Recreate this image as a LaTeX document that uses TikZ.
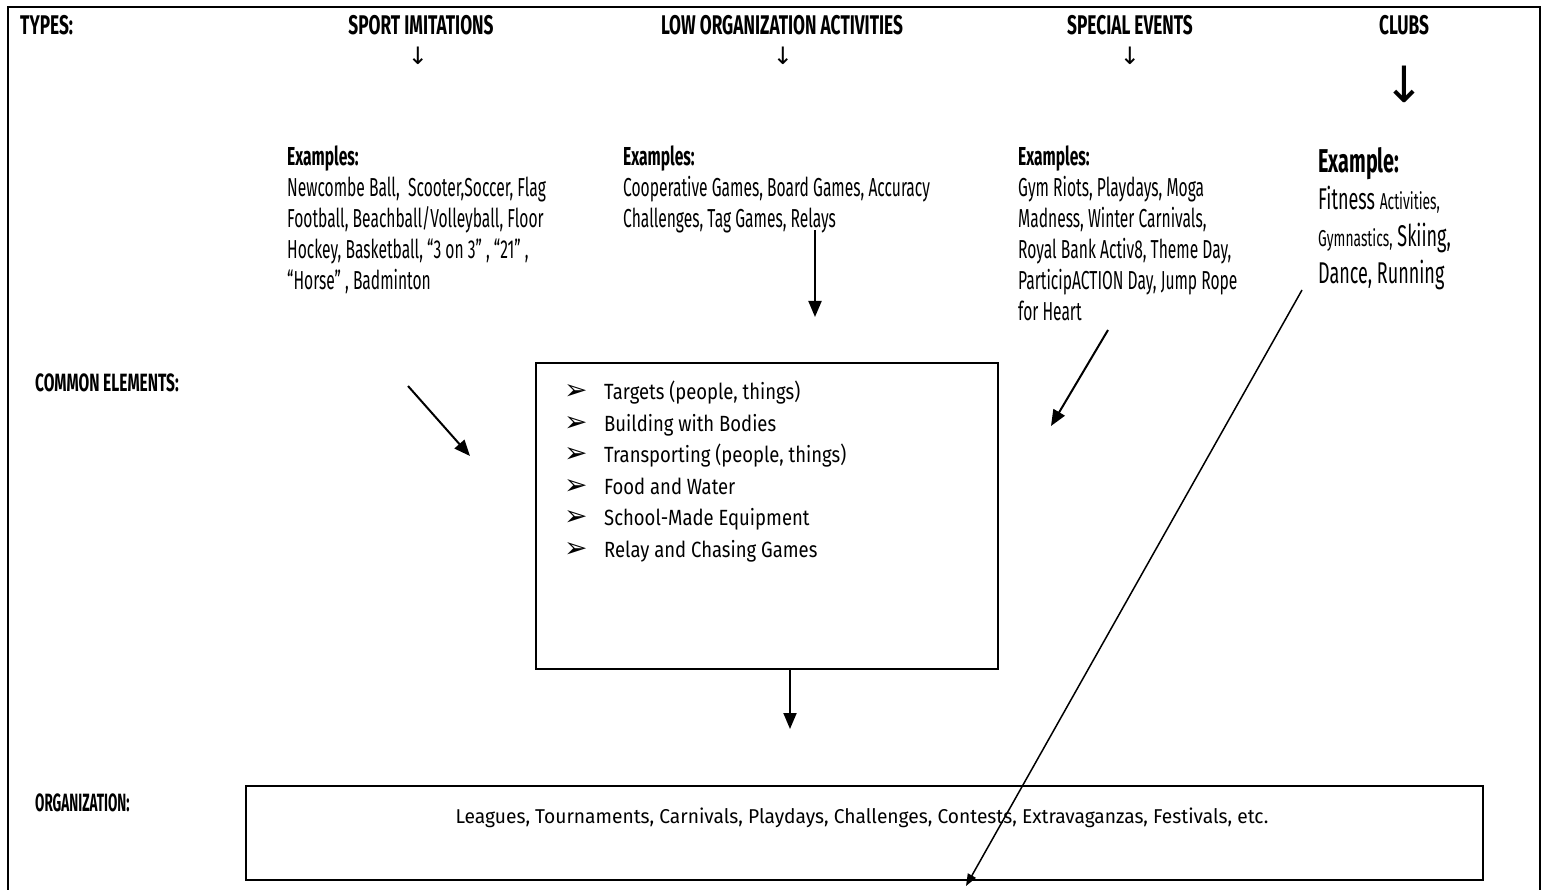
\documentclass[tikz,border=0pt]{standalone}
\usepackage{fontspec}
\setmainfont{Fira Sans}
\newfontfamily\headfont{Fira Sans}[FakeStretch=0.64]
\newfontfamily\sidefont{Fira Sans}[FakeStretch=0.62]
\newfontfamily\orgsidefont{Fira Sans}[FakeStretch=0.54]
\newfontfamily\exfont{Fira Sans}[FakeStretch=0.6]
\newfontfamily\listfont{Fira Sans}[FakeStretch=0.84]
\newfontfamily\orgfont{Fira Sans}[FakeStretch=0.96]
\newfontfamily\symfont{DejaVu Sans}
\usetikzlibrary{arrows.meta, calc}
\newcommand{\elembullet}{\makebox[40pt][l]{\symfont\fontsize{28}{28}\selectfont ➢}}
\tikzset{
    my-head/.style={
        inner sep=0, font=\headfont\bfseries\fontsize{27}{30}\selectfont
    },
    my-side/.style={
        inner sep=0, anchor=west, font=\sidefont\bfseries\fontsize{25}{30}\selectfont
    },
    my-down/.style={
        inner sep=0, font=\symfont\fontsize{24}{24}\selectfont
    },
    my-examples/.style={
        inner sep=0, anchor=north west, align=left,
        font=\exfont\fontsize{26}{31}\selectfont
    },
    my-box/.style={
        draw, line width=1.5pt, inner sep=0
    },
    my-arrow/.style={
        line width=2pt, -{Triangle[length=16pt, width=13pt]}
    },
}

\begin{document}
\begin{tikzpicture}[x=1pt, y=-1pt]

        \useasboundingbox (0,0) rectangle (1546,890);

        % FRAME
        \draw[line width=2.5pt] (8,900) -- (8,7) -- (1540,7) -- (1540,900);

        % TYPES
        \node[my-head, anchor=west] (TYPES)   at (20,25)   {TYPES:};
        \node[my-head]              (SPORT)   at (421,25)  {SPORT IMITATIONS};
        \node[my-head]              (LOW)     at (782,25)  {LOW ORGANIZATION ACTIVITIES};
        \node[my-head]              (SPECIAL) at (1130,25) {SPECIAL EVENTS};
        \node[my-head]              (CLUBS)   at (1404,25) {CLUBS};

        % DOWN SIGNS UNDER THE TYPES
        \node[my-down] (SPORTDOWN)   at (418,56)  {↓};
        \node[my-down] (LOWDOWN)     at (783,56)  {↓};
        \node[my-down] (SPECIALDOWN) at (1130,56) {↓};
        \node[my-down, font=\symfont\fontsize{50}{50}\selectfont]
                       (CLUBSDOWN)   at (1404,84) {↓};

        % EXAMPLES
        \node[my-examples] (EXSPORT) at (287,146) {%
            {\bfseries Examples:}\\
            Newcombe Ball,\ \ Scooter,Soccer, Flag\\
            Football, Beachball/Volleyball, Floor\\
            Hockey, Basketball, “3 on 3” , “21” ,\\
            “Horse” , Badminton};
        \node[my-examples] (EXLOW) at (623,146) {%
            {\bfseries Examples:}\\
            Cooperative Games, Board Games, Accuracy\\
            Challenges, Tag Games, Relays};
        \node[my-examples] (EXSPECIAL) at (1018,146) {%
            {\bfseries Examples:}\\
            Gym Riots, Playdays, Moga\\
            Madness, Winter Carnivals,\\
            Royal Bank Activ8, Theme Day,\\
            ParticipACTION Day, Jump Rope\\
            for Heart};
        \node[my-examples, font=\exfont\fontsize{30}{37}\selectfont] (EXCLUBS) at (1318,147) {%
            {\bfseries\fontsize{33}{37}\selectfont Example:}\\
            Fitness {\fontsize{23}{37}\selectfont Activities,}\\
            {\fontsize{23}{37}\selectfont Gymnastics,} Skiing,\\
            Dance, Running};

        % COMMON ELEMENTS
        \node[my-side] (COMMON) at (35,383) {COMMON ELEMENTS:};
        \node[my-box, minimum width=462pt, minimum height=306pt] (ELEMENTS) at (767,516) {};
        \node[inner sep=0, anchor=north west, align=left,
              font=\listfont\fontsize{22}{31.5}\selectfont] (ELEMLIST) at (564,381) {%
            \elembullet Targets (people, things)\\
            \elembullet Building with Bodies\\
            \elembullet Transporting (people, things)\\
            \elembullet Food and Water\\
            \elembullet School-Made Equipment\\
            \elembullet Relay and Chasing Games};

        % ORGANIZATION
        \node[my-side, font=\orgsidefont\bfseries\fontsize{25}{30}\selectfont] (ORG) at (35,803) {ORGANIZATION:};
        \node[my-box, line width=2pt, minimum width=1237pt, minimum height=94pt] (ORGBOX) at (864.5,833) {};
        \node[inner sep=0, font=\orgfont\fontsize{20}{24}\selectfont] (ORGTEXT) at (862,818)
            {Leagues, Tournaments, Carnivals, Playdays, Challenges, Contests, Extravaganzas, Festivals, etc.};

        % ARROW END POINTS
        \coordinate (SPORTOUT)   at (408,386);
        \coordinate (SPORTIN)    at (470,456);
        \coordinate (LOWOUT)     at (815,230);
        \coordinate (LOWIN)      at (815,317);
        \coordinate (SPECIALOUT) at (1108,330);
        \coordinate (SPECIALIN)  at (1051,426);
        \coordinate (CLUBSOUT)   at (1302,290);
        \coordinate (CLUBSIN)    at (966,886);
        \coordinate (ELEMIN)     at (790,729);

        % ARROWS
        \draw[my-arrow] (SPORTOUT)   -- (SPORTIN);
        \draw[my-arrow] (LOWOUT)     -- (LOWIN);
        \draw[my-arrow] (SPECIALOUT) -- (SPECIALIN);
        \draw[my-arrow] (ELEMENTS.south -| ELEMIN) -- (ELEMIN);
        \draw[line width=1.5pt, -{Triangle[length=12pt, width=9pt]}] (CLUBSOUT) -- (CLUBSIN);

\end{tikzpicture}
\end{document}
